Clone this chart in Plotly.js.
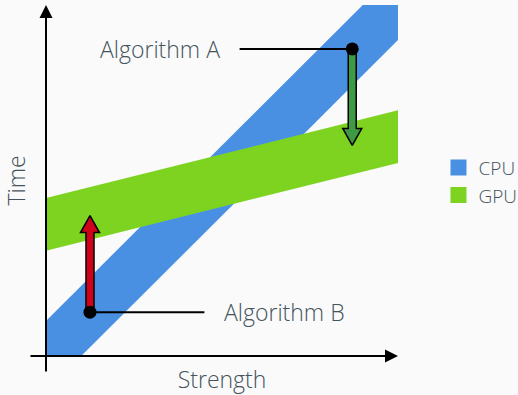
<!DOCTYPE html>
<html>
<head>
<meta charset="utf-8">
<script src="https://cdn.plot.ly/plotly-3.0.1.min.js"></script>
<style>
  html, body { margin: 0; padding: 0; background: #fafafa; }
  #chart { width: 518px; height: 395px; }
</style>
</head>
<body>
<div id="chart"></div>
<script>
// ---- data ----
const seriesNames = ['CPU', 'GPU'];
const seriesColors = ['#4a90e2', '#7ed321'];
const strength = [0, 10];          // x extent of the bands
const cpuLow = [-1, 9];            // lower edge of CPU band
const cpuHigh = [1, 11];           // upper edge of CPU band
const gpuLow = [3, 5.5];           // lower edge of GPU band
const gpuHigh = [4.5, 7];          // upper edge of GPU band

const algNames = ['Algorithm A', 'Algorithm B'];
const algStrength = [8.7, 1.25];   // x of each algorithm point
const algTime = [8.75, 1.25];      // time on its own device
const algTarget = [6, 4];          // time after moving to the other device
const arrowColors = ['#3f9a45', '#d0021b'];
const labelX = [5, 5];             // where labels sit
const connectorX = [5.5, 4.5];     // where connector lines end

// ---- geometry ----
const W = 518, H = 395;
const M = { l: 46, r: 120, t: 5, b: 39 };
const xRange = [0, 10], yRange = [0, 10];
const pxX = (W - M.l - M.r) / (xRange[1] - xRange[0]);
const pxY = (H - M.t - M.b) / (yRange[1] - yRange[0]);
const txt = '#44545c';
const FONT = '"Open Sans", "Noto Sans", sans-serif';

function band(low, high) {
  return {
    x: [strength[0], strength[0], strength[1], strength[1], strength[0]],
    y: [low[0], high[0], high[1], low[1], low[0]]
  };
}

const traces = [];
const bands = [band(cpuLow, cpuHigh), band(gpuLow, gpuHigh)];
bands.forEach((b, i) => {
  traces.push({
    type: 'scatter', mode: 'lines', x: b.x, y: b.y, fill: 'toself',
    fillcolor: seriesColors[i], line: { width: 0, color: seriesColors[i] },
    showlegend: false, hoverinfo: 'skip'
  });
});

// fat arrows built from the algorithm values
const shaftHalf = 4 / pxX, headHalf = 9.5 / pxX, headLen = 17 / pxY;
algNames.forEach((n, i) => {
  const x0 = algStrength[i], y0 = algTime[i], y1 = algTarget[i];
  const dir = y1 > y0 ? 1 : -1;
  const yb = y1 - dir * headLen;
  traces.push({
    type: 'scatter', mode: 'lines', fill: 'toself', fillcolor: arrowColors[i],
    line: { color: '#000', width: 1.5 },
    x: [x0 - shaftHalf, x0 - shaftHalf, x0 - headHalf, x0, x0 + headHalf, x0 + shaftHalf, x0 + shaftHalf, x0 - shaftHalf],
    y: [y0, yb, yb, y1, yb, yb, y0, y0],
    showlegend: false, hoverinfo: 'skip'
  });
});

// connectors and points
algNames.forEach((n, i) => {
  traces.push({
    type: 'scatter', mode: 'lines', x: [connectorX[i], algStrength[i]], y: [algTime[i], algTime[i]],
    line: { color: '#000', width: 2 }, showlegend: false, hoverinfo: 'skip'
  });
});
traces.push({
  type: 'scatter', mode: 'markers', x: algStrength, y: algTime,
  marker: { color: '#000', size: 13 }, showlegend: false, hoverinfo: 'skip', cliponaxis: false
});

// legend entries
seriesNames.forEach((n, i) => {
  traces.push({
    type: 'scatter', mode: 'markers', name: n, x: [null], y: [null],
    marker: { symbol: 'square', size: 18, color: seriesColors[i] }
  });
});

const annotations = [];
algNames.forEach((n, i) => {
  annotations.push({
    x: labelX[i], y: algTime[i], xref: 'x', yref: 'y', text: n, showarrow: false,
    xanchor: i === 0 ? 'right' : 'left', yanchor: 'middle',
    font: { family: FONT, size: 23, color: txt, weight: 300 }
  });
});
// axis arrows
annotations.push({
  x: xRange[1], y: yRange[0], xref: 'x', yref: 'y', text: '', showarrow: true,
  axref: 'pixel', ayref: 'pixel', ax: -(xRange[1] - xRange[0]) * pxX - 17, ay: 0,
  arrowhead: 2, arrowsize: 1.3, arrowwidth: 2, arrowcolor: '#000', standoff: 0
});
annotations.push({
  x: xRange[0], y: yRange[1], xref: 'x', yref: 'y', text: '', showarrow: true,
  axref: 'pixel', ayref: 'pixel', ax: 0, ay: (yRange[1] - yRange[0]) * pxY + 17,
  arrowhead: 2, arrowsize: 1.3, arrowwidth: 2, arrowcolor: '#000', standoff: 0
});

const axisCommon = {
  showgrid: false, zeroline: false, showticklabels: false, ticks: '', showline: false,
  fixedrange: true
};

const layout = {
  width: W, height: H,
  margin: { l: M.l, r: M.r, t: M.t, b: M.b, pad: 0, autoexpand: false },
  paper_bgcolor: '#fafafa', plot_bgcolor: '#fafafa',
  font: { family: FONT, color: txt, size: 19, weight: 300 },
  showlegend: true,
  legend: {
    x: 1.115, xanchor: 'left', y: 0.497, yanchor: 'middle',
    font: { family: FONT, size: 19, color: txt, weight: 300 },
    bgcolor: 'rgba(0,0,0,0)', tracegroupgap: 0
  },
  xaxis: Object.assign({}, axisCommon, {
    range: xRange,
    title: { text: 'Strength', standoff: 16, font: { family: FONT, size: 23, color: txt, weight: 300 } }
  }),
  yaxis: Object.assign({}, axisCommon, {
    range: yRange,
    title: { text: 'Time', standoff: 14, font: { family: FONT, size: 23, color: txt, weight: 300 } }
  }),
  annotations: annotations,
  hovermode: false
};

Plotly.newPlot('chart', traces, layout, { displayModeBar: false, staticPlot: true });
</script>
</body>
</html>
